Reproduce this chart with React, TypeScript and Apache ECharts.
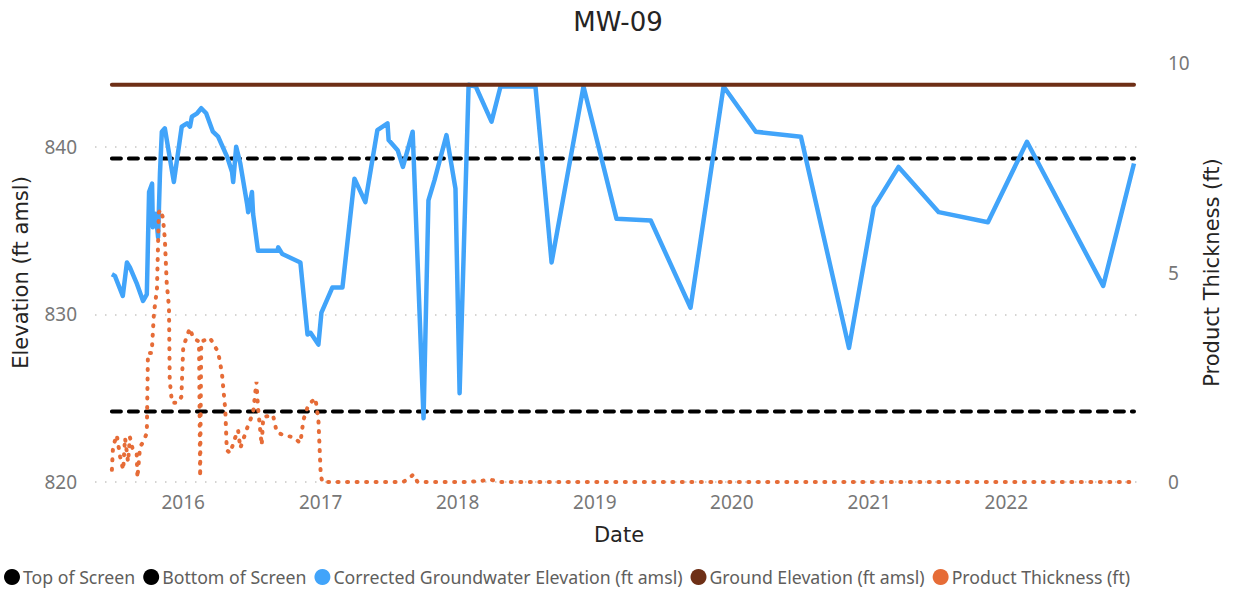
import React, { useEffect, useRef } from "react";
import * as echarts from "echarts";

// Corrected groundwater elevation (ft amsl)
const gwDates = [
  "2015-06-25", "2015-07-03", "2015-07-24", "2015-08-04", "2015-08-12", "2015-08-31",
  "2015-09-16", "2015-09-26", "2015-10-02", "2015-10-10", "2015-10-12", "2015-10-20",
  "2015-10-26", "2015-10-31", "2015-11-05", "2015-11-13", "2015-12-07", "2015-12-28",
  "2016-01-11", "2016-01-19", "2016-01-24", "2016-02-07", "2016-02-18", "2016-03-02",
  "2016-03-20", "2016-04-03", "2016-04-27", "2016-05-10", "2016-05-13", "2016-05-21",
  "2016-06-01", "2016-06-19", "2016-06-22", "2016-07-02", "2016-07-05", "2016-07-18",
  "2016-09-08", "2016-09-10", "2016-09-21", "2016-11-08", "2016-11-27", "2016-12-05",
  "2016-12-26", "2017-01-03", "2017-02-01", "2017-02-28", "2017-04-01", "2017-04-30",
  "2017-06-01", "2017-06-28", "2017-07-01", "2017-07-25", "2017-08-08", "2017-09-03",
  "2017-10-02", "2017-10-15", "2017-10-31", "2017-12-02", "2017-12-26", "2018-01-06",
  "2018-01-30", "2018-02-18", "2018-04-01", "2018-04-25", "2018-07-27", "2018-09-08",
  "2018-12-02", "2019-02-28", "2019-05-30", "2019-09-13", "2019-12-10", "2020-03-05",
  "2020-07-03", "2020-11-08", "2021-01-13", "2021-03-20", "2021-07-05", "2021-11-13",
  "2022-02-25", "2022-09-16", "2022-12-07",
];
const gwValues = [
  832.4, 832.3, 831.1, 833.1, 832.8, 831.8,
  830.8, 831.2, 837.3, 837.8, 835.2, 836.0,
  834.6, 838.4, 840.9, 841.1, 837.9, 841.2,
  841.4, 841.2, 841.8, 842.0, 842.3, 842.0,
  840.9, 840.6, 839.4, 838.5, 837.9, 840.0,
  839.0, 836.6, 836.1, 837.3, 836.0, 833.8,
  833.8, 834.0, 833.6, 833.1, 828.8, 828.9,
  828.2, 830.1, 831.6, 831.6, 838.1, 836.7,
  841.0, 841.4, 840.4, 839.8, 838.8, 840.9,
  823.8, 836.8, 838.0, 840.7, 837.5, 825.3,
  843.7, 843.6, 841.5, 843.6, 843.6, 833.1,
  843.6, 835.7, 835.6, 830.4, 843.6, 840.9,
  840.6, 828.0, 836.4, 838.8, 836.1, 835.5,
  840.3, 831.7, 839.0,
];

// Product thickness (ft)
const ptDates = [
  "2015-06-25", "2015-06-28", "2015-07-08", "2015-07-17", "2015-07-25", "2015-07-30",
  "2015-08-07", "2015-08-12", "2015-08-20", "2015-08-30", "2015-09-01", "2015-09-08",
  "2015-09-16", "2015-09-26", "2015-09-29", "2015-10-09", "2015-10-15", "2015-10-23",
  "2015-10-28", "2015-11-02", "2015-11-08", "2015-11-13", "2015-11-18", "2015-11-24",
  "2015-11-26", "2015-12-02", "2015-12-17", "2015-12-27", "2016-01-01", "2016-01-14",
  "2016-01-19", "2016-01-27", "2016-02-12", "2016-02-15", "2016-02-18", "2016-03-12",
  "2016-04-03", "2016-04-13", "2016-04-22", "2016-04-26", "2016-05-05", "2016-05-18",
  "2016-05-26", "2016-06-01", "2016-06-22", "2016-07-05", "2016-07-14", "2016-07-18",
  "2016-07-28", "2016-08-01", "2016-08-27", "2016-09-06", "2016-09-23", "2016-10-20",
  "2016-11-08", "2016-11-16", "2016-11-29", "2016-12-18", "2016-12-26", "2017-01-01",
  "2017-01-05", "2017-02-01", "2017-04-01", "2017-06-01", "2017-08-08", "2017-08-20",
  "2017-09-05", "2017-09-16", "2018-01-30", "2018-03-31", "2018-04-25", "2022-12-07",
];
const ptValues = [
  0.29, 0.84, 1.12, 0.6, 0.29, 1.05,
  0.48, 1.07, 0.76, 0.69, 0.1, 0.84,
  0.95, 1.17, 3.08, 3.08, 4.03, 4.6,
  6.44, 6.5, 6.3, 5.8, 4.75, 4.18,
  2.43, 1.89, 1.89, 2.03, 3.22, 3.56,
  3.67, 3.44, 3.35, 0.12, 3.35, 3.44,
  3.1, 2.6, 1.72, 0.76, 0.69, 1.05,
  1.24, 0.81, 1.36, 1.65, 2.39, 1.79,
  0.88, 1.55, 1.6, 1.19, 1.12, 1.07,
  0.93, 1.48, 1.84, 2.0, 1.48, 0.21,
  0, 0, 0, 0, 0, 0.06,
  0.18, 0, 0, 0.05, 0, 0,
];

const groundElevation = 843.7;
const topOfScreen = 839.3;
const bottomOfScreen = 824.2;

const seriesNames = [
  "Top of Screen",
  "Bottom of Screen",
  "Corrected Groundwater Elevation (ft amsl)",
  "Ground Elevation (ft amsl)",
  "Product Thickness (ft)",
];
const seriesColors = ["#000000", "#000000", "#41A4FA", "#6E2F16", "#E66C37"];

export default function App() {
  const ref = useRef<HTMLDivElement>(null);

  useEffect(() => {
    if (!ref.current) return;
    const chart = echarts.init(ref.current, null, { renderer: "svg" });
    const first = gwDates[0];
    const last = gwDates[gwDates.length - 1];
    const flat = (v: number) => [
      [first, v],
      [last, v],
    ];
    const tickFont = "Noto Sans";
    const titleFont = "DejaVu Sans";

    chart.setOption({
      animation: false,
      backgroundColor: "#ffffff",
      title: {
        text: "MW-09",
        left: "center",
        top: 4,
        textStyle: { fontFamily: titleFont, fontSize: 26, fontWeight: "normal", color: "#252423" },
      },
      legend: {
        left: 0,
        top: 563,
        padding: [5, 5, 5, 4],
        icon: "circle",
        itemWidth: 16,
        itemHeight: 16,
        itemGap: 8,
        itemStyle: { borderWidth: 0 },
        textStyle: { fontFamily: tickFont, fontSize: 17.7, color: "#605E5C", padding: [0, 0, 0, -2] },
        data: seriesNames,
      },
      grid: { left: 95, right: 93, top: 63, bottom: 109 },
      xAxis: {
        type: "time",
        min: "2015-05-11",
        max: "2022-12-31",
        splitNumber: 7,
        name: "Date",
        nameLocation: "middle",
        nameGap: 42,
        nameTextStyle: { fontFamily: titleFont, fontSize: 21, color: "#252423" },
        axisLine: { show: false },
        axisTick: { show: false },
        splitLine: { show: false },
        axisLabel: {
          margin: 10,
          fontFamily: tickFont,
          fontSize: 19,
          color: "#777777",
          hideOverlap: false,
          formatter: (val: number) => {
            const d = new Date(val);
            return d.getMonth() === 0 && d.getDate() === 1 ? String(d.getFullYear()) : "";
          },
        },
      },
      yAxis: [
        {
          type: "value",
          min: 820,
          max: 845,
          interval: 10,
          name: "Elevation (ft amsl)",
          nameLocation: "middle",
          nameGap: 64,
          nameTextStyle: { fontFamily: titleFont, fontSize: 21, color: "#252423" },
          axisLine: { show: false },
          axisTick: { show: false },
          axisLabel: {
            margin: 18,
            fontFamily: tickFont,
            fontSize: 19,
            color: "#777777",
            showMaxLabel: false,
          },
          splitLine: {
            show: true,
            showMaxLine: false,
            lineStyle: { color: "#C8C6C4", width: 1.5, type: [1.5, 8.5] },
          },
        },
        {
          type: "value",
          min: 0,
          max: 10,
          interval: 5,
          name: "Product Thickness (ft)",
          nameLocation: "middle",
          nameGap: 58,
          nameTextStyle: { fontFamily: titleFont, fontSize: 21, color: "#252423" },
          axisLine: { show: false },
          axisTick: { show: false },
          axisLabel: { margin: 25, fontFamily: tickFont, fontSize: 19, color: "#777777" },
          splitLine: { show: false },
        },
      ],
      series: [
        {
          name: seriesNames[0],
          type: "line",
          data: flat(topOfScreen),
          showSymbol: false,
          itemStyle: { color: seriesColors[0] },
          lineStyle: { color: seriesColors[0], width: 4, type: [9, 8], cap: "round" },
        },
        {
          name: seriesNames[1],
          type: "line",
          data: flat(bottomOfScreen),
          showSymbol: false,
          itemStyle: { color: seriesColors[1] },
          lineStyle: { color: seriesColors[1], width: 4, type: [9, 8], cap: "round" },
        },
        {
          name: seriesNames[2],
          type: "line",
          data: gwDates.map((d, i) => [d, gwValues[i]]),
          showSymbol: false,
          itemStyle: { color: seriesColors[2] },
          lineStyle: { color: seriesColors[2], width: 4.5, join: "round" },
        },
        {
          name: seriesNames[3],
          type: "line",
          data: flat(groundElevation),
          showSymbol: false,
          itemStyle: { color: seriesColors[3] },
          lineStyle: { color: seriesColors[3], width: 4, cap: "round" },
        },
        {
          name: seriesNames[4],
          type: "line",
          yAxisIndex: 1,
          data: ptDates.map((d, i) => [d, ptValues[i]]),
          showSymbol: false,
          itemStyle: { color: seriesColors[4] },
          lineStyle: { color: seriesColors[4], width: 4, type: [1, 8.5], cap: "round" },
        },
      ],
    });
    return () => chart.dispose();
  }, []);

  return (
    <div
      ref={ref}
      style={{ position: "fixed", left: 0, top: 0, width: "1236px", height: "591px", background: "#fff" }}
    />
  );
}
